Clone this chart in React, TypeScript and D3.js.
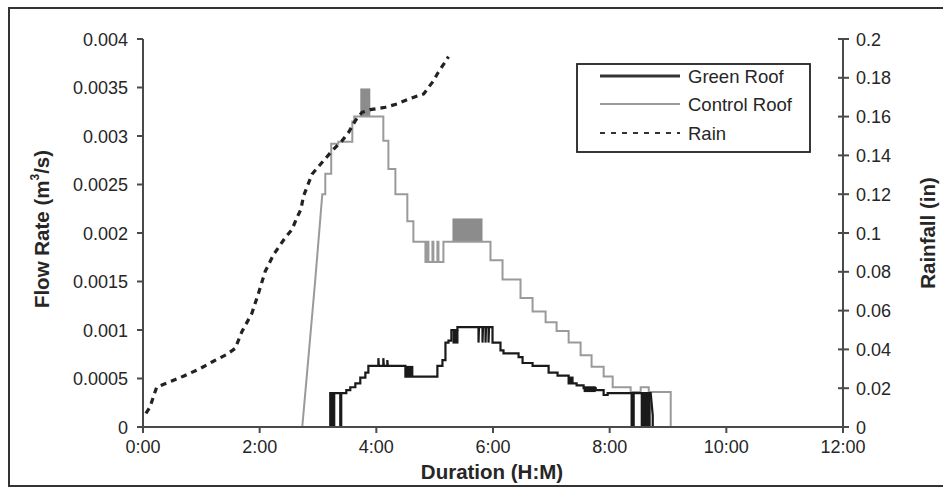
import React from "react";
import * as d3 from "d3";

// ---- data (time in minutes, flow in m3/s, rain in inches) ----
const rainTime = [3, 7.2, 14.1, 29.6, 41.5, 58.7, 72.4, 86.2, 94.8, 101.7, 112, 118.8, 125.7, 134.2, 146.2, 153.2, 158.3, 162.4, 165.1, 173.8, 184.1, 194.4, 204.7, 211.5, 218.4, 225.3, 233.8, 249.3, 261.3, 273.3, 288.7, 299, 302.8, 311, 314.2];
const rainValue = [0.007, 0.0103, 0.0206, 0.0237, 0.0262, 0.0301, 0.0339, 0.0374, 0.0405, 0.0491, 0.0586, 0.069, 0.0802, 0.0888, 0.0975, 0.1018, 0.1078, 0.1122, 0.119, 0.1303, 0.1363, 0.1423, 0.1475, 0.1519, 0.1579, 0.1622, 0.1636, 0.1648, 0.1665, 0.1691, 0.1717, 0.1786, 0.1821, 0.1883, 0.1909];

const controlTime = [161.7, 163.8, 166.9, 177.2, 182.3, 184.4, 187.5, 187.5, 193.6, 193.6, 200.9, 200.9, 215.3, 215.3, 217.3, 217.3, 247.2, 247.2, 252.4, 252.4, 259.6, 259.6, 271.9, 271.9, 278.1, 278.1, 290.5, 290.5, 292.5, 292.5, 293.6, 293.6, 297.7, 297.7, 298.7, 298.7, 302.8, 302.8, 303.9, 303.9, 309.0, 309.0, 357.4, 357.4, 369.8, 369.8, 388.3, 388.3, 400.7, 400.7, 414.1, 414.1, 425.4, 425.4, 437.8, 437.8, 450.1, 450.1, 461.4, 461.4, 473.8, 473.8, 483.1, 483.1, 501.6, 501.6, 511.9, 511.9, 520.2, 520.2, 542.8, 542.8];
const controlFlow = [0, 0, 0.00035, 0.00152, 0.00214, 0.0024, 0.0024, 0.00261, 0.00261, 0.00292, 0.00292, 0.00294, 0.00294, 0.00315, 0.00315, 0.0032, 0.0032, 0.00295, 0.00295, 0.00266, 0.00266, 0.0024, 0.0024, 0.00212, 0.00212, 0.00191, 0.00191, 0.0017, 0.0017, 0.00191, 0.00191, 0.0017, 0.0017, 0.00191, 0.00191, 0.0017, 0.0017, 0.00191, 0.00191, 0.0017, 0.0017, 0.00191, 0.00191, 0.00172, 0.00172, 0.00152, 0.00152, 0.00133, 0.00133, 0.00119, 0.00119, 0.00108, 0.00108, 0.00099, 0.00099, 0.00087, 0.00087, 0.00074, 0.00074, 0.00062, 0.00062, 0.00052, 0.00052, 0.00041, 0.00041, 0.00036, 0.00036, 0.00041, 0.00041, 0.00036, 0.00036, 0];
// rapid oscillation bands: [start, end, low, high]
const controlBands = [[223.5, 233.8, 0.0032, 0.00349], [318.3, 349.2, 0.00191, 0.00215]];

const greenTime = [192.6, 192.6, 202.9, 202.9, 203.9, 203.9, 209.1, 209.1, 213.2, 213.2, 218.4, 218.4, 223.5, 223.5, 228.7, 228.7, 231.8, 231.8, 242.1, 242.1, 242.6, 247.2, 247.2, 247.7, 251.3, 251.3, 251.8, 269.9, 269.9, 302.8, 302.8, 308.0, 308.0, 311.1, 311.1, 314.2, 314.2, 317.2, 317.2, 323.4, 323.4, 345.1, 345.1, 345.6, 349.2, 349.2, 349.7, 352.3, 352.3, 352.8, 355.4, 355.4, 355.9, 359.5, 359.5, 367.7, 367.7, 370.8, 370.8, 386.3, 386.3, 390.4, 390.4, 400.7, 400.7, 417.2, 417.2, 426.4, 426.4, 437.8, 437.8, 446.0, 446.0, 453.2, 453.2, 465.6, 465.6, 473.8, 473.8, 477.9, 477.9, 502.6, 502.6, 504.7, 504.7, 522.2, 524.3, 524.3];
const greenFlow = [0, 0.00035, 0.00035, 0, 0, 0.00035, 0.00035, 0.00038, 0.00038, 0.00041, 0.00041, 0.00045, 0.00045, 0.00051, 0.00051, 0.00056, 0.00056, 0.00063, 0.00063, 0.00071, 0.00063, 0.00063, 0.00071, 0.00063, 0.00063, 0.00069, 0.00063, 0.00063, 0.00052, 0.00052, 0.00063, 0.00063, 0.00069, 0.00069, 0.00087, 0.00087, 0.00089, 0.00089, 0.001, 0.001, 0.00103, 0.00103, 0.00087, 0.00103, 0.00103, 0.00087, 0.00103, 0.00103, 0.00087, 0.00103, 0.00103, 0.00087, 0.00103, 0.00103, 0.00087, 0.00087, 0.00079, 0.00079, 0.00076, 0.00076, 0.00072, 0.00072, 0.00066, 0.00066, 0.00063, 0.00063, 0.00056, 0.00056, 0.00053, 0.00053, 0.00045, 0.00045, 0.00043, 0.00043, 0.0004, 0.0004, 0.00038, 0.00038, 0.00033, 0.00033, 0.00035, 0.00035, 0, 0, 0.00035, 0.00035, 0.00012, 0];
const greenBands = [[192.6, 197.8, 0, 0.00035], [269.9, 278.1, 0.00052, 0.00063], [318.3, 324.5, 0.00086, 0.001], [437.8, 442.9, 0.00045, 0.00052], [453.2, 465.6, 0.00036, 0.00042], [511.9, 522.2, 0, 0.00035]];

const flowTicks = [0, 0.0005, 0.001, 0.0015, 0.002, 0.0025, 0.003, 0.0035, 0.004];
const flowTickLabels = ["0", "0.0005", "0.001", "0.0015", "0.002", "0.0025", "0.003", "0.0035", "0.004"];
const rainTicks = [0, 0.02, 0.04, 0.06, 0.08, 0.1, 0.12, 0.14, 0.16, 0.18, 0.2];
const rainTickLabels = ["0", "0.02", "0.04", "0.06", "0.08", "0.1", "0.12", "0.14", "0.16", "0.18", "0.2"];
const timeTicks = [0, 120, 240, 360, 480, 600, 720];
const timeTickLabels = ["0:00", "2:00", "4:00", "6:00", "8:00", "10:00", "12:00"];
const legendLabels = ["Green Roof", "Control Roof", "Rain"];

const FONT = "'Liberation Sans', Arial, Helvetica, sans-serif";

export default function App() {
  const x = d3.scaleLinear().domain([0, 720]).range([143, 843]);
  const yL = d3.scaleLinear().domain([0, 0.004]).range([427, 39]);
  const yR = d3.scaleLinear().domain([0, 0.2]).range([427, 39]);

  const lineL = d3.line<[number, number]>().x((d) => x(d[0])).y((d) => yL(d[1]));
  const lineR = d3.line<[number, number]>().x((d) => x(d[0])).y((d) => yR(d[1]));

  const rain = rainTime.map((t, i) => [t, rainValue[i]] as [number, number]);
  const control = controlTime.map((t, i) => [t, controlFlow[i]] as [number, number]);
  const green = greenTime.map((t, i) => [t, greenFlow[i]] as [number, number]);

  const axisColor = "#4a4a4a";
  const textColor = "#262626";
  const gray = "#9a9a9a";
  const dark = "#1a1a1a";
  const tickFs = 18;

  return (
    <svg width={943} height={489} style={{ position: "absolute", left: 0, top: 0 }} fontFamily={FONT}>
      <rect x={0} y={0} width={943} height={489} fill="#fff" />
      <rect x={9} y={8} width={940} height={478} fill="none" stroke="#333" strokeWidth={2} />

      {/* control roof */}
      {controlBands.map((b, i) => (
        <rect key={"cb" + i} x={x(b[0])} y={yL(b[3])} width={x(b[1]) - x(b[0])} height={yL(b[2]) - yL(b[3])} fill="#8c8c8c" />
      ))}
      <path d={lineL(control) || ""} fill="none" stroke={gray} strokeWidth={2} />

      {/* green roof */}
      {greenBands.map((b, i) => (
        <rect key={"gb" + i} x={x(b[0])} y={yL(b[3])} width={x(b[1]) - x(b[0])} height={yL(b[2]) - yL(b[3])} fill={dark} />
      ))}
      <path d={lineL(green) || ""} fill="none" stroke={dark} strokeWidth={2.2} />

      {/* rain */}
      <path d={lineR(rain) || ""} fill="none" stroke="#222" strokeWidth={3.2} strokeDasharray="6,5" />

      {/* left axis */}
      <line x1={143} x2={143} y1={yL(0.004)} y2={yL(0)} stroke={axisColor} strokeWidth={2} />
      {flowTicks.map((v, i) => (
        <g key={"lt" + i}>
          <line x1={137} x2={143} y1={yL(v)} y2={yL(v)} stroke={axisColor} strokeWidth={2} />
          <text x={128} y={yL(v) + 6.5} textAnchor="end" fontSize={tickFs} fill={textColor}>{flowTickLabels[i]}</text>
        </g>
      ))}

      {/* right axis */}
      <line x1={843} x2={843} y1={yR(0.2)} y2={yR(0)} stroke={axisColor} strokeWidth={2} />
      {rainTicks.map((v, i) => (
        <g key={"rt" + i}>
          <line x1={838} x2={849} y1={yR(v)} y2={yR(v)} stroke={axisColor} strokeWidth={2} />
          <text x={856} y={yR(v) + 6.5} textAnchor="start" fontSize={tickFs} fill={textColor}>{rainTickLabels[i]}</text>
        </g>
      ))}

      {/* bottom axis */}
      <line x1={x(0)} x2={x(720)} y1={427} y2={427} stroke={axisColor} strokeWidth={2} />
      {timeTicks.map((v, i) => (
        <g key={"bt" + i}>
          <line x1={x(v)} x2={x(v)} y1={427} y2={433} stroke={axisColor} strokeWidth={2} />
          <text x={x(v)} y={453} textAnchor="middle" fontSize={tickFs} fill={textColor}>{timeTickLabels[i]}</text>
        </g>
      ))}

      {/* titles */}
      <text x={492} y={479} textAnchor="middle" fontSize={20.5} fontWeight="bold" fill={textColor}>Duration (H:M)</text>
      <text transform="translate(49,229) rotate(-90)" textAnchor="middle" fontSize={20.5} fontWeight="bold" fill={textColor}>
        Flow Rate (m<tspan dy={-10} fontSize={12}>3</tspan><tspan dy={10}>/s)</tspan>
      </text>
      <text transform="translate(935,233) rotate(-90)" textAnchor="middle" fontSize={20.5} fontWeight="bold" fill={textColor}>Rainfall (in)</text>

      {/* legend */}
      <rect x={577} y={64} width={233} height={88} fill="#fff" stroke="#222" strokeWidth={1.8} />
      <line x1={600} x2={680} y1={76} y2={76} stroke="#333" strokeWidth={3} />
      <line x1={600} x2={680} y1={104} y2={104} stroke={gray} strokeWidth={2} />
      <line x1={600} x2={680} y1={133} y2={133} stroke="#333" strokeWidth={2} strokeDasharray="5,6" />
      {legendLabels.map((l, i) => (
        <text key={"lg" + i} x={688} y={82.5 + i * 28.5} fontSize={18.5} fill={textColor}>{l}</text>
      ))}
    </svg>
  );
}
